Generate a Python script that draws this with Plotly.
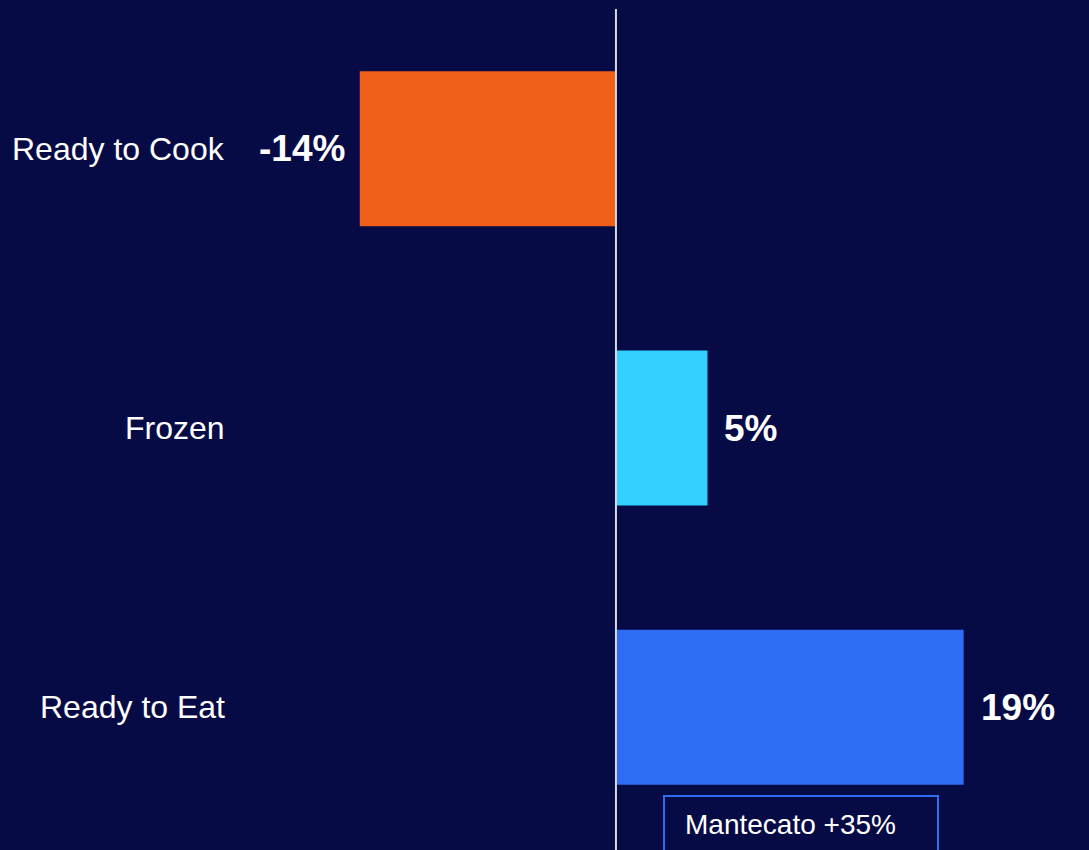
import plotly.graph_objects as go

# Growth by segment
categories = ["Ready to Cook", "Frozen", "Ready to Eat"]
growth_pct = [-14, 5, 19]
value_labels = ["-14%", "5%", "19%"]
bar_colors = ["#EF5F1A", "#33D1FF", "#2D6DF4"]
note_text = "Mantecato +35%"

BG = "#070B45"
FONT = "Liberation Sans, Arial, sans-serif"
W, H = 1089, 850
x_range = [-33.66, 25.85]

fig = go.Figure(
    go.Bar(
        y=categories,
        x=growth_pct,
        orientation="h",
        marker=dict(color=bar_colors, line=dict(width=0)),
        hoverinfo="skip",
    )
)

# bold value labels beside each bar end
for cat, v, lab in zip(categories, growth_pct, value_labels):
    fig.add_annotation(
        x=v, y=cat, xref="x", yref="y", text=f"<b>{lab}</b>", showarrow=False,
        xanchor="right" if v < 0 else "left", xshift=-13 if v < 0 else 15,
        font=dict(family=FONT, size=37, color="white"),
    )

# category names, right-aligned in the left margin area
for cat in categories:
    fig.add_annotation(
        x=227 / W, y=cat, xref="paper", yref="y", text=cat, showarrow=False,
        xanchor="right", font=dict(family=FONT, size=32, color="white"),
    )

# zero reference line
fig.add_shape(type="line", xref="x", yref="paper", x0=0, x1=0, y0=-0.01, y1=1,
              line=dict(color="#D8D8E0", width=2), layer="above")

# boxed note under the last bar
fig.add_shape(type="rect", xref="paper", yref="paper",
              x0=664 / W, x1=938 / W, y0=-0.02, y1=(H - 3 - 796) / (H - 12),
              line=dict(color="#2D6DF4", width=2), fillcolor="rgba(0,0,0,0)")
fig.add_annotation(
    x=683 / W, y=(H - 3 - 824) / (H - 12), xref="paper", yref="paper",
    text=note_text, showarrow=False, xanchor="left", yanchor="middle",
    font=dict(family=FONT, size=28, color="white"),
)

fig.update_layout(
    width=W, height=H,
    margin=dict(l=0, r=0, t=9, b=3),
    paper_bgcolor=BG, plot_bgcolor=BG,
    bargap=0.445,
    showlegend=False,
    xaxis=dict(range=x_range, visible=False, fixedrange=True),
    yaxis=dict(autorange="reversed", visible=False, fixedrange=True),
)

fig.write_html("out.html")
